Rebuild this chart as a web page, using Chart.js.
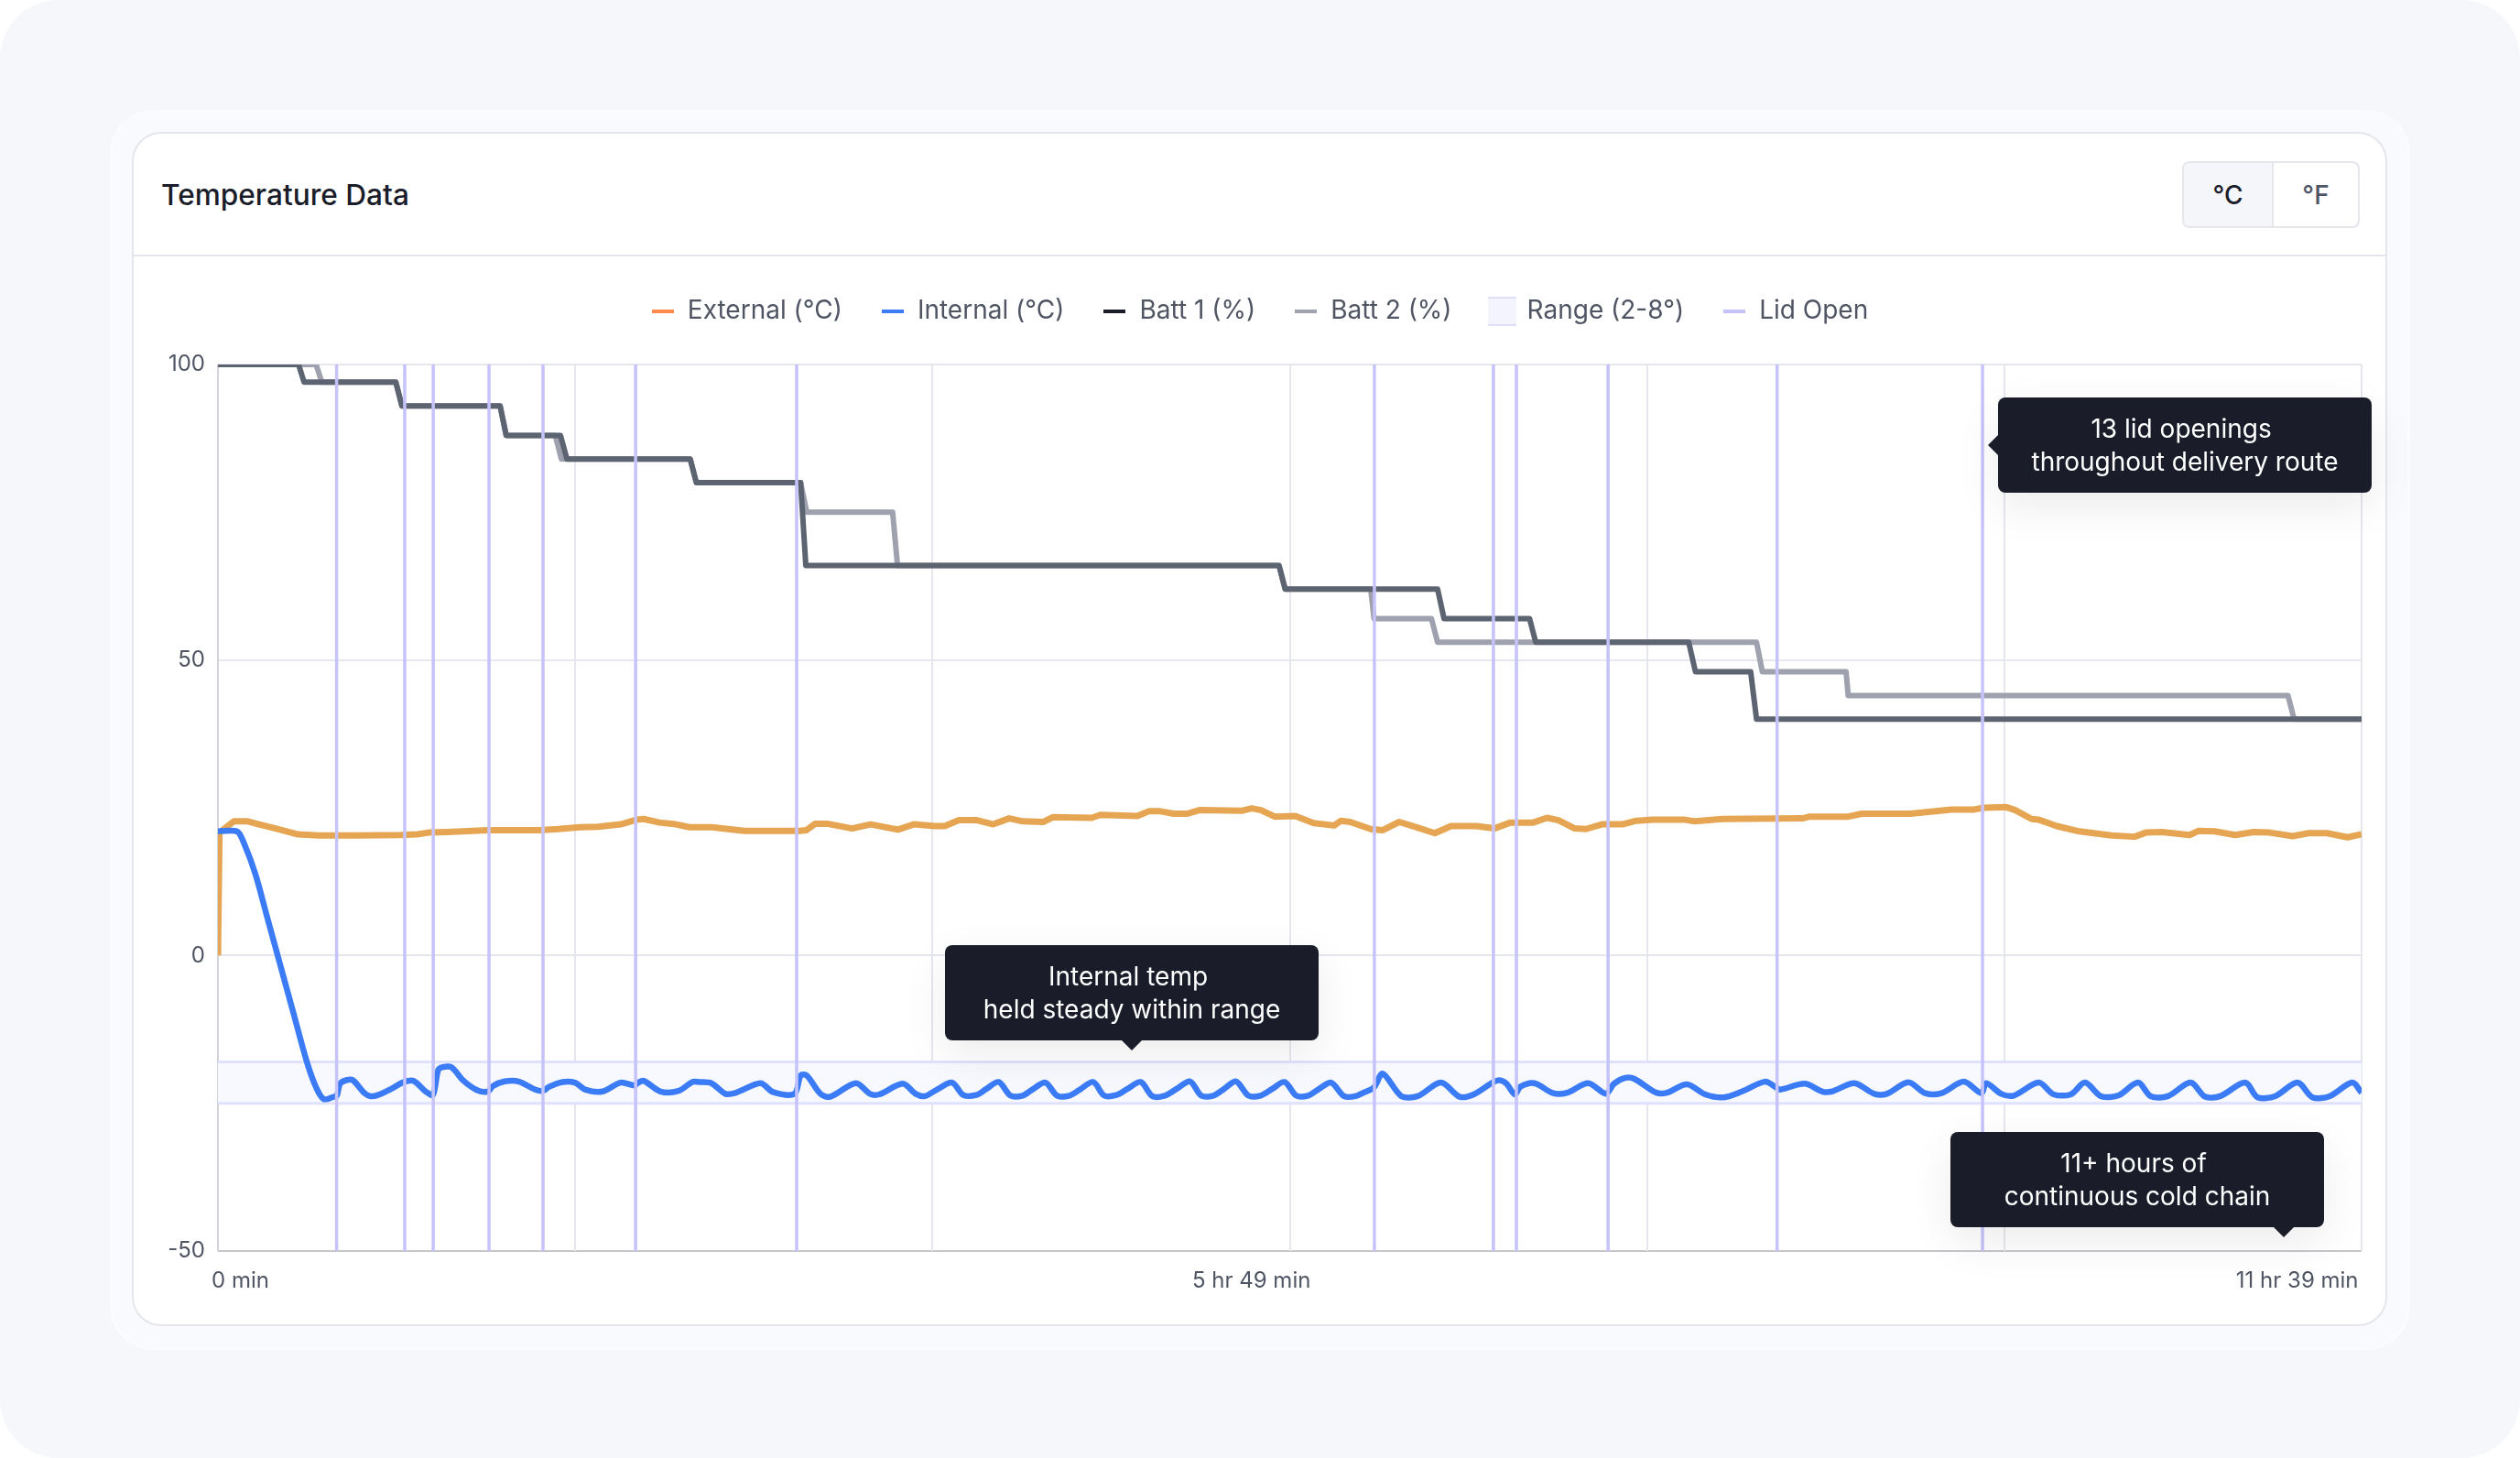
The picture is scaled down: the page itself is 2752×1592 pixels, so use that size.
<!DOCTYPE html>
<html lang="en">
<head>
    <meta charset="UTF-8">
    <title>Temperature Data</title>
    <script src="https://cdn.jsdelivr.net/npm/chart.js"></script>
    <style>
        html, body { margin: 0; padding: 0; background: #ffffff; font-family: 'Inter', sans-serif; }
        .page { position: relative; width: 2752px; height: 1592px; overflow: hidden; background: #f6f7fb; border-radius: 64px; }
        .outer { position: absolute; left: 120px; top: 120px; width: 2508px; height: 1350px; background: #f9fafd; border: 2px solid #fbfcfe; border-radius: 48px; }
        .card { position: absolute; left: 144px; top: 144px; width: 2459px; height: 1300px; background: #ffffff; border: 2px solid #e5e6ec; border-radius: 32px; }
        .divider { position: absolute; left: 146px; top: 278px; width: 2459px; height: 2px; background: #e5e6ec; }
        .title { position: absolute; left: 176px; top: 193px; font-size: 31.6px; line-height: 40px; font-weight: 500; color: #1a1d29; }
        .units { position: absolute; left: 2383px; top: 176px; width: 190px; height: 69px; border: 2px solid #e5e6ec; border-radius: 8px; display: flex; overflow: hidden; font-size: 28px; }
        .units div { display: flex; align-items: center; justify-content: center; }
        .units .on { width: 96px; background: #f5f6fa; border-right: 2px solid #e5e6ec; color: #1a1d29; font-weight: 500; }
        .units .off { width: 92px; color: #4f5563; font-weight: 500; }
        canvas { position: absolute; left: 165px; top: 281px; }
        .note { position: absolute; width: 408px; height: 104px; box-sizing: border-box; padding-top: 16px; background: #1a1d29; color: #ffffff; border-radius: 8px; font-size: 28px; line-height: 36px; text-align: center; box-shadow: 0 16px 48px rgba(0, 0, 0, 0.08); }
        .note::after { content: ''; position: absolute; border-style: solid; border-color: transparent; }
        .note.down::after { top: 100%; left: 193px; border-width: 11px 11px 0 11px; border-top-color: #1a1d29; }
        .note.down.far::after { left: 353px; }
        .note.left::after { right: 100%; top: 41px; border-width: 11px 11px 11px 0; border-right-color: #1a1d29; }
    </style>
</head>
<body>
<div class="page">
    <div class="outer"></div>
    <div class="card"></div>
    <div class="divider"></div>
    <div class="title">Temperature Data</div>
    <div class="units"><div class="on">°C</div><div class="off">°F</div></div>
    <canvas id="temp-chart" width="2421" height="1140"></canvas>
    <div class="note left" style="left:2182px;top:434px">13 lid openings&nbsp;<br>throughout delivery route</div>
    <div class="note down" style="left:1032px;top:1032px">Internal temp&nbsp;<br>held steady within range</div>
    <div class="note down far" style="left:2130px;top:1236px">11+ hours of&nbsp;<br>continuous cold chain</div>
</div>

<script>
    // Time axis, in minutes
    var timeEnd = 699;
    var gridTimes = [0, 116.5, 233, 349.5, 466, 582.5, 699];
    var timeTickPlaces = [7.3, 337, 678];
    var timeTickLabels = ['0 min', '5 hr 49 min', '11 hr 39 min'];
    var valueTicks = [-50, 0, 50, 100];

    var seriesNames = ['External (°C)', 'Internal (°C)', 'Batt 1 (%)', 'Batt 2 (%)', 'Range (2-8°)', 'Lid Open'];

    var externalTimes = [0, 0.5, 5.2, 9.7, 13.4, 19.4, 26.1, 32.8, 44.8, 59.7, 65, 68.7, 74.7, 88, 104.5, 111, 118, 124, 131.4, 136.6, 138.8, 144, 149.3, 153.8, 161, 171.7, 189.6, 191.8, 194.8, 198.6, 206.8, 212.8, 221.7, 226.9, 233.7, 237, 241.6, 247.5, 252.8, 258, 262.5, 269.2, 272.2, 284.9, 287.8, 299.8, 303.5, 307.3, 311.7, 316.2, 320, 334.1, 337.1, 340.1, 344.6, 351.3, 357.3, 364, 366.2, 369.2, 375.9, 379.7, 385.2, 390.9, 396.8, 402.1, 410.3, 416.2, 421.5, 428.9, 433.4, 437.1, 442.4, 446.1, 451.3, 458, 462.5, 468, 478, 481.6, 490.6, 516.7, 519, 531.6, 536.1, 551.8, 557.8, 565.2, 572.7, 575.7, 583.2, 586.1, 591.4, 593.6, 599.6, 607, 617.5, 625, 628.7, 633.9, 642.9, 645.9, 651.1, 657.8, 663.8, 669, 676.5, 681.7, 687.7, 694.4, 699];
    var externalValues = [0, 20.8, 22.7, 22.7, 22.2, 21.4, 20.5, 20.3, 20.3, 20.4, 20.5, 20.8, 20.9, 21.2, 21.2, 21.4, 21.7, 21.8, 22.2, 23, 23.1, 22.5, 22.2, 21.7, 21.7, 21.1, 21.1, 21.2, 22.3, 22.3, 21.5, 22.2, 21.3, 22.2, 21.9, 21.9, 22.9, 22.9, 22.2, 23.2, 22.7, 22.6, 23.4, 23.3, 23.8, 23.6, 24.4, 24.4, 24, 24, 24.6, 24.5, 24.9, 24.6, 23.5, 23.6, 22.4, 22, 22.8, 22.6, 21.4, 21.2, 22.6, 21.7, 20.7, 21.9, 21.9, 21.5, 22.5, 22.5, 23.3, 22.9, 21.5, 21.4, 22.2, 22.2, 22.8, 23, 23, 22.7, 23.1, 23.2, 23.5, 23.5, 24, 24, 24.3, 24.7, 24.7, 25, 25.1, 24.6, 23.1, 23, 21.9, 21, 20.3, 20.1, 20.8, 20.9, 20.4, 21.1, 21, 20.4, 20.9, 20.8, 20.2, 20.7, 20.7, 20, 20.5];

    var internalTimes = [0, 6.2, 8.5, 12.2, 16, 19.9, 24.5, 29, 32, 34.5, 37.8, 38.8, 39.8, 41.8, 44, 47.8, 49.8, 52.2, 56.7, 60.2, 63.7, 67.7, 70.1, 71.8, 73.1, 76.1, 80.1, 84.6, 88.1, 89.6, 93.5, 98, 103.5, 106, 108, 112.4, 116.4, 119.9, 125.4, 131.3, 135.8, 136.8, 138.8, 144.3, 150.2, 154.7, 157, 160.9, 165.5, 169, 176.9, 181, 188, 190, 192, 196.5, 199.6, 208, 212.6, 215.6, 223.3, 227.5, 230.5, 234.4, 239.4, 243, 247.3, 250.5, 254.6, 258.4, 262.4, 265.5, 269.8, 273.6, 277.7, 281, 285.4, 289, 293, 296.5, 300.9, 304.7, 308.8, 312.5, 317, 320.6, 324.6, 328, 332, 336, 340, 343.7, 347.8, 351.6, 355.5, 359, 363, 367.2, 371, 374, 377, 379.8, 385.9, 391.2, 398.8, 404.9, 409.5, 415.6, 417.9, 420.2, 422.9, 424.7, 429.3, 435.4, 440, 446.8, 452.6, 455.2, 459, 462, 469, 472.5, 479, 485, 491, 497, 504.4, 508, 509.3, 517.4, 523.1, 526.3, 533.6, 540.1, 544.2, 551.2, 556.7, 562, 569.3, 575, 576.6, 581.5, 585.6, 593.7, 598.6, 604.2, 608.8, 614, 619.6, 626.1, 630.2, 635.9, 643.2, 648, 652.9, 661, 665.1, 670.8, 678.1, 683, 688.6, 695.9, 699];
    var internalValues = [21, 21, 19, 13.8, 6.6, -0.8, -9.5, -18, -22.3, -24.3, -23.9, -23.7, -21.7, -21.1, -21.1, -23.3, -23.8, -23.6, -22.5, -21.5, -21.2, -23, -23.6, -19.4, -18.9, -18.9, -21.2, -22.8, -23, -22.1, -21.3, -21.3, -22.7, -22.9, -22.2, -21.4, -21.5, -22.7, -23, -21.5, -22, -21.6, -21.2, -23, -22.9, -21.4, -21.4, -21.6, -23.4, -23.2, -21.6, -23.1, -23.4, -20.3, -20.3, -23.4, -23.9, -21.6, -23.4, -23.5, -21.7, -23.4, -23.8, -22.7, -21.5, -23.6, -23.6, -22.6, -21.4, -23.7, -23.7, -22.7, -21.5, -23.7, -23.7, -22.7, -21.4, -23.7, -23.6, -22.6, -21.4, -23.8, -23.7, -22.6, -21.3, -23.7, -23.7, -22.6, -21.3, -23.7, -23.7, -22.6, -21.4, -23.7, -23.7, -22.6, -21.5, -23.8, -23.8, -23.1, -22.3, -20, -23.8, -23.8, -21.5, -23.9, -23.5, -21.5, -21.1, -21.7, -23.5, -22.2, -21.6, -23.3, -23.2, -21.6, -23.4, -21.7, -20.7, -20.9, -23.2, -23.2, -21.8, -23.5, -24, -23, -21.35, -22.3, -22.7, -21.7, -23, -23, -21.6, -23.4, -23.4, -21.45, -23.3, -23.3, -21.35, -23.3, -21.6, -23.4, -23.7, -21.5, -23.5, -23.5, -21.5, -23.8, -23.7, -21.5, -23.8, -23.8, -21.5, -23.9, -23.8, -21.5, -24, -23.8, -21.5, -24, -23.8, -21.5, -23.2];

    var batt1Times = [0, 26.3, 28.1, 58, 60, 92, 94, 111.7, 113.8, 154, 156, 190, 191.7, 346, 348, 397.7, 399.8, 427.7, 429.7, 479.6, 481.8, 499.8, 501.7, 699];
    var batt1Values = [100, 100, 97, 97, 93, 93, 88, 88, 84, 84, 80, 80, 66, 66, 62, 62, 57, 57, 53, 53, 48, 48, 40, 40];
    var batt2Times = [0, 32, 33.9, 58, 60, 92, 94, 110, 112, 154, 156, 190, 192, 220, 221.6, 346, 348, 375.9, 377, 395.7, 397.7, 501.7, 503.6, 530.9, 531.6, 675, 677, 699];
    var batt2Values = [100, 100, 97, 97, 93, 93, 88, 88, 84, 84, 80, 80, 75, 75, 66, 66, 62, 62, 57, 57, 53, 53, 48, 48, 44, 44, 40, 40];

    var rangeTop = -18;
    var rangeBottom = -25;
    var lidOpenTimes = [38.7, 60.9, 70.2, 88.4, 106, 136.2, 188.7, 377.1, 415.9, 423.4, 453.3, 508.4, 575.4];

    function toPoints(times, values) {
        return times.map(function (t, i) { return { x: t, y: values[i] }; });
    }

    // one vertical segment per lid opening, split by gaps
    var lidPoints = [];
    lidOpenTimes.forEach(function (t) {
        lidPoints.push({ x: t, y: -50 }, { x: t, y: 100 }, { x: t, y: null });
    });

    var colors = {
        external: '#e6a552', internal: '#3b7cf6', batt1: '#5d6471', batt2: '#9fa2ae',
        rangeFill: '#f8f9fe', rangeLine: '#e0e1fd', lid: '#c6c3fa', grid: '#e6e7ec', axis: '#d2d4d9', base: '#c6c7cb', text: '#4f5563'
    };

    function lineSwatch(color) {
        var c = document.createElement('canvas');
        c.width = 24; c.height = 4;
        var g = c.getContext('2d');
        g.fillStyle = color;
        g.fillRect(0, 0, 24, 4);
        return c;
    }

    function rangeSwatch() {
        var c = document.createElement('canvas');
        c.width = 31; c.height = 32;
        var g = c.getContext('2d');
        g.fillStyle = '#f3f4fe';
        g.fillRect(0, 0, 31, 32);
        g.fillStyle = '#dddffc';
        g.fillRect(0, 0, 31, 2);
        g.fillRect(0, 30, 31, 2);
        return c;
    }

    var legendSwatches = [lineSwatch('#fb8a4c'), lineSwatch(colors.internal), lineSwatch('#1a1d29'), lineSwatch(colors.batt2), rangeSwatch(), lineSwatch(colors.lid)];

    function line(label, points, color, width, order) {
        return { label: label, data: points, borderColor: color, borderWidth: width, pointRadius: 0, tension: 0, fill: false, clip: 0, order: order, borderJoinStyle: 'round' };
    }

    // makes room between the legend and the plot
    var legendRoom = {
        id: 'legendRoom',
        beforeInit: function (chart) {
            var fit = chart.legend.fit;
            chart.legend.fit = function () {
                fit.call(this);
                this.height = 114;
            };
        }
    };

    Chart.defaults.font.family = "'Inter', sans-serif";
    Chart.defaults.color = colors.text;

    var internalLine = line(seriesNames[1], toPoints(internalTimes, internalValues), colors.internal, 6.5, 2);
    internalLine.tension = 0.3;

    new Chart(document.getElementById('temp-chart').getContext('2d'), {
        type: 'line',
        data: {
            datasets: [
                line(seriesNames[0], toPoints(externalTimes, externalValues), colors.external, 7, 3),
                internalLine,
                line(seriesNames[2], toPoints(batt1Times, batt1Values), colors.batt1, 6, 4),
                line(seriesNames[3], toPoints(batt2Times, batt2Values), colors.batt2, 6, 5),
                {
                    label: seriesNames[4],
                    data: toPoints([0, timeEnd], [rangeTop, rangeTop]),
                    borderColor: colors.rangeLine, borderWidth: 3, pointRadius: 0,
                    backgroundColor: colors.rangeFill, fill: { value: rangeBottom }, order: 7
                },
                {
                    label: 'Range bottom',
                    data: toPoints([0, timeEnd], [rangeBottom, rangeBottom]),
                    borderColor: colors.rangeLine, borderWidth: 3, pointRadius: 0, fill: false, order: 6
                },
                {
                    label: seriesNames[5],
                    data: lidPoints,
                    borderColor: colors.lid, borderWidth: 3.5, pointRadius: 0, spanGaps: false, fill: false, clip: 0, order: 1
                }
            ]
        },
        plugins: [legendRoom],
        options: {
            responsive: false,
            animation: false,
            devicePixelRatio: 1,
            layout: { padding: { top: 3, left: 7, right: 7 } },
            plugins: {
                tooltip: { enabled: false },
                legend: {
                    position: 'top',
                    onClick: null,
                    labels: {
                        usePointStyle: true,
                        pointStyleWidth: 26,
                        padding: 42,
                        color: colors.text,
                        font: { size: 28 },
                        generateLabels: function () {
                            return seriesNames.map(function (name, i) {
                                return { text: name, pointStyle: legendSwatches[i], fontColor: colors.text, lineWidth: 0, datasetIndex: i };
                            });
                        }
                    }
                }
            },
            scales: {
                y: {
                    type: 'linear',
                    min: -50,
                    max: 100,
                    afterBuildTicks: function (scale) {
                        scale.ticks = valueTicks.map(function (v) { return { value: v }; });
                    },
                    afterFit: function (scale) { scale.width = 66; },
                    border: { display: false },
                    grid: {
                        drawTicks: false,
                        lineWidth: 2,
                        color: function (ctx) { return ctx.tick && ctx.tick.value === -50 ? colors.base : colors.grid; }
                    },
                    ticks: { padding: 14, color: colors.text, font: { size: 24 } }
                },
                x: {
                    type: 'linear',
                    position: 'bottom',
                    min: 0,
                    max: timeEnd,
                    afterBuildTicks: function (scale) {
                        scale.ticks = timeTickPlaces.map(function (v) { return { value: v }; });
                    },
                    afterFit: function (scale) {
                        scale.height = 55;
                        scale.paddingLeft = 0;
                        scale.paddingRight = 0;
                    },
                    border: { display: false },
                    grid: { display: false },
                    ticks: {
                        autoSkip: false,
                        maxRotation: 0,
                        padding: 10,
                        color: colors.text,
                        font: { size: 24 },
                        callback: function (value, index) { return timeTickLabels[index]; }
                    }
                },
                gridX: {
                    type: 'linear',
                    position: 'bottom',
                    min: 0,
                    max: timeEnd,
                    afterBuildTicks: function (scale) {
                        scale.ticks = gridTimes.map(function (v) { return { value: v }; });
                    },
                    afterFit: function (scale) { scale.height = 0; },
                    border: { display: false },
                    grid: {
                        drawTicks: false,
                        lineWidth: 2,
                        color: function (ctx) { return ctx.tick && ctx.tick.value === 0 ? colors.axis : colors.grid; }
                    },
                    ticks: { display: false }
                }
            }
        }
    });
</script>
</body>
</html>
